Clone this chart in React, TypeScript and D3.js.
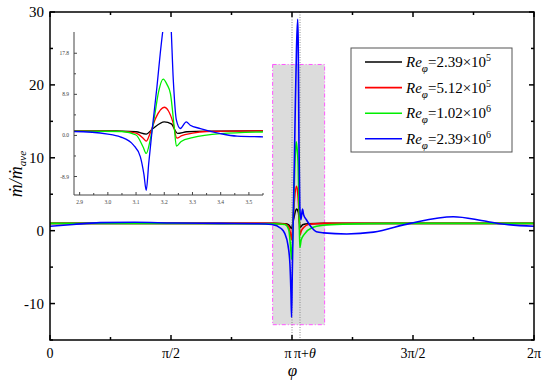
import { useEffect, useRef } from 'react';
import * as d3 from 'd3';

const PI = Math.PI;
const THETA = 0.104;

// series (phi in rad, normalised mass flux)
const blackPhi = [0, 1.5, 2.9, 3.05, 3.1, 3.136, 3.16, 3.2, 3.225, 3.247, 3.28, 3.35, 3.55, 4.5, 2 * PI];
const blackVal = [1.0, 1.0, 1.0, 0.95, 0.8, 0.3, 1.5, 2.95, 2.5, 0.45, 0.8, 0.95, 1.0, 1.0, 1.0];

const redPhi = [0, 2.9, 3.05, 3.1, 3.125, 3.136, 3.15, 3.17, 3.2, 3.215, 3.23, 3.245, 3.26, 3.3, 3.35, 3.45, 3.55, 2 * PI];
const redVal = [1.0, 1.0, 0.9, 0.5, -0.6, -1.24, 0.5, 3.8, 6.1, 5.3, 3.0, -0.6, -0.1, 0.5, 0.85, 0.95, 1.0, 1.0];

const greenPhi = [0, 2.9, 3.05, 3.1, 3.125, 3.136, 3.15, 3.165, 3.18, 3.196, 3.21, 3.222, 3.235, 3.243, 3.26, 3.3, 3.4, 3.55, 3.8, 4.5, 2 * PI];
const greenVal = [1.0, 0.95, 0.85, 0.1, -2.5, -3.9, -1.0, 4.0, 9.5, 12.2, 11.0, 9.0, 2.0, -2.3, -1.3, -0.5, 0.4, 0.75, 0.9, 1.0, 1.0];

const bluePhi = [0, 0.3, 0.65, 1.1, 1.6, 2.2, 2.7, 2.88, 3.0, 3.044, 3.091, 3.115, 3.128, 3.136, 3.145, 3.157, 3.174, 3.186, 3.2, 3.215, 3.222, 3.232, 3.243, 3.257, 3.278, 3.292, 3.328, 3.399, 3.458, 3.55, 3.852, 4.2, 4.674, 5.236, 5.6, 5.84, 2 * PI];
const blueVal = [0.6, 0.85, 1.1, 1.15, 1.05, 1.0, 0.95, 0.85, 0.3, -0.3, -2.1, -4.6, -8.5, -11.9, -6.0, 1.2, 10.5, 17.9, 25, 29, 26, 12, 3.3, 1.5, 2.95, 2.2, 1.5, 0.4, -0.15, -0.3, -0.45, -0.2, 1.0, 1.9, 1.4, 0.95, 0.6];

const seriesPhi = [blackPhi, redPhi, greenPhi, bluePhi];
const seriesVal = [blackVal, redVal, greenVal, blueVal];
const seriesColors = ['#000000', '#ff0000', '#00ee00', '#0000ff'];
const seriesMantissa = ['2.39', '5.12', '1.02', '2.39'];
const seriesExp = ['5', '5', '6', '6'];

// main axis ticks
const xMajor = [0, PI / 2, PI, (3 * PI) / 2, 2 * PI];
const xMajorLabels = ['0', 'π/2', 'π', '3π/2', '2π'];
const xMinor = [PI / 4, (3 * PI) / 4, (5 * PI) / 4, (7 * PI) / 4];
const yMajor = [-10, 0, 10, 20, 30];
const yMinor = [-15, -5, 5, 15, 25];

// inset (zoom) window
const insetPhi = [2.88, 3.55];
const insetVal = [-12.9, 22.4];
const insetXMajor = [2.9, 3.0, 3.1, 3.2, 3.3, 3.4, 3.5];
const insetXMinor = [2.95, 3.05, 3.15, 3.25, 3.35, 3.45, 3.55];
const insetYMajor = [-8.9, 0, 8.9, 17.8];
const insetYLabels = ['-8.9', '0.0', '8.9', '17.8'];
const insetYMinor = [-4.45, 4.45, 13.35];

// highlighted region
const boxPhi = [2.89, 3.565];
const boxVal = [-12.9, 22.8];

export default function App() {
  const svgRef = useRef<SVGSVGElement>(null);

  useEffect(() => {
    if (!svgRef.current) return;
    const width = 550;
    const height = 384;
    const margin = { top: 12, right: 16, bottom: 44, left: 50 };
    const font = '"Times New Roman", Times, Tinos, "Nimbus Roman", "Liberation Serif", "DejaVu Serif", "Noto Serif", serif';

    d3.select(svgRef.current).selectAll('*').remove();
    const svg = d3
      .select(svgRef.current)
      .attr('width', width)
      .attr('height', height)
      .style('font-family', font);

    svg.append('rect').attr('width', width).attr('height', height).attr('fill', '#fff');

    const x = d3.scaleLinear().domain([0, 2 * PI]).range([margin.left, width - margin.right]);
    const y = d3.scaleLinear().domain([-15, 30]).range([height - margin.bottom, margin.top]);
    const [x0, x1] = x.range();
    const [y0, y1] = [y(-15), y(30)];

    // shaded box
    svg
      .append('rect')
      .attr('x', x(boxPhi[0]))
      .attr('y', y(boxVal[1]))
      .attr('width', x(boxPhi[1]) - x(boxPhi[0]))
      .attr('height', y(boxVal[0]) - y(boxVal[1]))
      .attr('fill', '#dcdcdc')
      .attr('stroke', '#ff55ff')
      .attr('stroke-width', 1)
      .attr('stroke-dasharray', '4,2,1,2');

    // dotted guides at pi and pi+theta
    [PI, PI + THETA].forEach((v) => {
      svg
        .append('line')
        .attr('x1', x(v))
        .attr('x2', x(v))
        .attr('y1', y1)
        .attr('y2', y0)
        .attr('stroke', '#888')
        .attr('stroke-width', 1)
        .attr('stroke-dasharray', '1,1.5');
    });

    const line = (sx: d3.ScaleLinear<number, number>, sy: d3.ScaleLinear<number, number>) =>
      d3
        .line<[number, number]>()
        .x((d) => sx(d[0]))
        .y((d) => sy(d[1]))
        .curve(d3.curveMonotoneX);

    const mainLine = line(x, y);
    seriesPhi.forEach((phis, i) => {
      const pts = phis.map((p, j) => [p, seriesVal[i][j]] as [number, number]);
      svg
        .append('path')
        .attr('d', mainLine(pts))
        .attr('fill', 'none')
        .attr('stroke', seriesColors[i])
        .attr('stroke-width', 1.6)
        .attr('stroke-linejoin', 'round');
    });

    // frame + ticks
    svg
      .append('rect')
      .attr('x', x0)
      .attr('y', y1)
      .attr('width', x1 - x0)
      .attr('height', y0 - y1)
      .attr('fill', 'none')
      .attr('stroke', '#000')
      .attr('stroke-width', 1.5);

    const tick = (x1_: number, y1_: number, x2_: number, y2_: number) =>
      svg
        .append('line')
        .attr('x1', x1_)
        .attr('y1', y1_)
        .attr('x2', x2_)
        .attr('y2', y2_)
        .attr('stroke', '#000')
        .attr('stroke-width', 1.5);

    xMajor.forEach((v) => {
      tick(x(v), y0, x(v), y0 - 5);
      tick(x(v), y1, x(v), y1 + 5);
    });
    xMinor.forEach((v) => {
      tick(x(v), y0, x(v), y0 - 3);
      tick(x(v), y1, x(v), y1 + 3);
    });
    yMajor.forEach((v) => {
      tick(x0, y(v), x0 + 5, y(v));
      tick(x1, y(v), x1 - 5, y(v));
    });
    yMinor.forEach((v) => {
      tick(x0, y(v), x0 + 3, y(v));
      tick(x1, y(v), x1 - 3, y(v));
    });

    // tick labels
    xMajor.forEach((v, i) => {
      const isPi = xMajorLabels[i] === 'π';
      svg
        .append('text')
        .attr('x', isPi ? x(v) - 0.5 : x(v))
        .attr('y', y0 + 18)
        .attr('text-anchor', isPi ? 'end' : 'middle')
        .attr('font-size', 14)
        .text(xMajorLabels[i]);
    });
    const pt = svg
      .append('text')
      .attr('x', x(PI + THETA) - 6)
      .attr('y', y0 + 18)
      .attr('font-size', 14);
    pt.append('tspan').text('π+');
    pt.append('tspan').attr('font-style', 'italic').text('θ');

    yMajor.forEach((v) => {
      svg
        .append('text')
        .attr('x', x0 - 6)
        .attr('y', y(v) + 5)
        .attr('text-anchor', 'end')
        .attr('font-size', 15)
        .text(String(v));
    });

    // axis titles
    svg
      .append('text')
      .attr('x', (x0 + x1) / 2 + 0.5)
      .attr('y', y0 + 36)
      .attr('text-anchor', 'middle')
      .attr('font-style', 'italic')
      .attr('font-size', 17)
      .text('φ');

    const yt = svg
      .append('text')
      .attr('transform', `translate(22, ${(y0 + y1) / 2 - 2}) rotate(-90)`)
      .attr('text-anchor', 'middle')
      .attr('font-style', 'italic')
      .attr('font-size', 18);
    yt.append('tspan').text('ṁ/ṁ');
    yt.append('tspan').attr('font-size', 11).attr('dy', 4).text('ave');

    // legend
    const lg = svg.append('g').attr('transform', 'translate(351, 48)');
    lg.append('rect')
      .attr('width', 161)
      .attr('height', 104)
      .attr('fill', '#fff')
      .attr('stroke', '#555')
      .attr('stroke-width', 1);
    seriesColors.forEach((c, i) => {
      const ly = 14 + i * 25.6;
      lg.append('line')
        .attr('x1', 14)
        .attr('x2', 51)
        .attr('y1', ly)
        .attr('y2', ly)
        .attr('stroke', c)
        .attr('stroke-width', 1.6);
      const t = lg
        .append('text')
        .attr('x', 55)
        .attr('y', ly + 5)
        .attr('font-size', 15);
      t.append('tspan').attr('font-style', 'italic').text('Re');
      t.append('tspan').attr('font-style', 'italic').attr('font-size', 11).attr('dy', 5).text('φ');
      t.append('tspan').attr('dy', -5).text(`=${seriesMantissa[i]}×10`);
      t.append('tspan').attr('font-size', 10).attr('dy', -6).text(seriesExp[i]);
    });

    // inset
    const ix = d3.scaleLinear().domain(insetPhi).range([74, 263]);
    const iy = d3.scaleLinear().domain(insetVal).range([195, 32]);
    const ig = svg.append('g');
    ig.append('clipPath')
      .attr('id', 'inset-clip')
      .append('rect')
      .attr('x', 74)
      .attr('y', 32)
      .attr('width', 189)
      .attr('height', 163);
    const insetLine = line(ix, iy);
    const curves = ig.append('g').attr('clip-path', 'url(#inset-clip)');
    seriesPhi.forEach((phis, i) => {
      const pts = phis.map((p, j) => [p, seriesVal[i][j]] as [number, number]);
      curves
        .append('path')
        .attr('d', insetLine(pts))
        .attr('fill', 'none')
        .attr('stroke', seriesColors[i])
        .attr('stroke-width', 1.3)
        .attr('stroke-linejoin', 'round');
    });
    const axisColor = '#444';
    ig.append('path')
      .attr('d', `M74,32V195H263`)
      .attr('fill', 'none')
      .attr('stroke', axisColor)
      .attr('stroke-width', 1);
    insetXMajor.forEach((v) => {
      ig.append('line').attr('x1', ix(v)).attr('x2', ix(v)).attr('y1', 195).attr('y2', 192).attr('stroke', axisColor);
      ig.append('text')
        .attr('x', ix(v))
        .attr('y', 204)
        .attr('text-anchor', 'middle')
        .attr('font-size', 5.5)
        .attr('fill', '#444')
        .text(v.toFixed(1));
    });
    insetXMinor.forEach((v) => {
      ig.append('line').attr('x1', ix(v)).attr('x2', ix(v)).attr('y1', 195).attr('y2', 193).attr('stroke', axisColor);
    });
    insetYMajor.forEach((v, i) => {
      ig.append('line').attr('x1', 74).attr('x2', 77).attr('y1', iy(v)).attr('y2', iy(v)).attr('stroke', axisColor);
      ig.append('text')
        .attr('x', 69)
        .attr('y', iy(v) + 2)
        .attr('text-anchor', 'end')
        .attr('font-size', 5.5)
        .attr('fill', '#444')
        .text(insetYLabels[i]);
    });
    insetYMinor.forEach((v) => {
      ig.append('line').attr('x1', 74).attr('x2', 76).attr('y1', iy(v)).attr('y2', iy(v)).attr('stroke', axisColor);
    });
  }, []);

  return <svg ref={svgRef} style={{ position: 'absolute', left: 0, top: 0 }} />;
}
